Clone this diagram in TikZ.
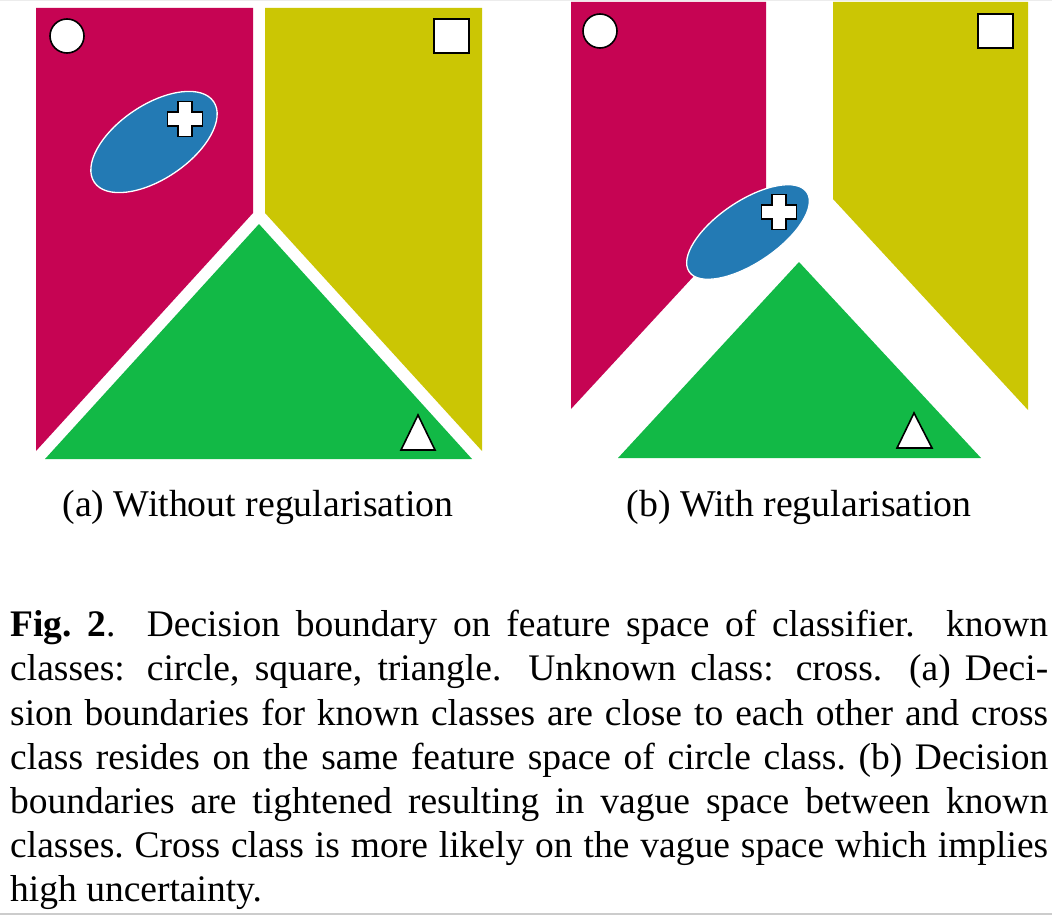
\documentclass[tikz,border=0pt]{standalone}
\usepackage{fontspec}
\setmainfont{Liberation Serif}
\definecolor{regMagenta}{RGB}{198,4,83}
\definecolor{regYellow}{RGB}{203,198,4}
\definecolor{regGreen}{RGB}{18,185,70}
\definecolor{regBlue}{RGB}{35,122,180}
\newcommand{\capline}[1]{\hbox to 1038pt{#1}}
\newcommand{\crossshape}{(-6.8,-17.5) -- (6.8,-17.5) -- (6.8,-6.8) -- (17.5,-6.8) -- (17.5,6.8)
   -- (6.8,6.8) -- (6.8,17.5) -- (-6.8,17.5) -- (-6.8,6.8) -- (-17.5,6.8) -- (-17.5,-6.8)
   -- (-6.8,-6.8) -- cycle}

\begin{document}
\begin{tikzpicture}[x=1pt,y=-1pt,
      symb/.style={fill=white,draw=black,line width=1.6pt},
      blob/.style={fill=regBlue,draw=white,line width=1.3pt},
      lbl/.style={font=\fontsize{37.8}{44}\selectfont,anchor=base,inner sep=0pt}]

    \useasboundingbox (0,0) rectangle (1052,915);
    \fill[gray!15] (0,0) rectangle (1052,1.2);
    \fill[gray!40] (0,912.5) rectangle (1052,915);

    % (a) boundaries close to each other
    \fill[regMagenta] (36,8) -- (253,8) -- (253,213) -- (36,451) -- cycle;
    \fill[regYellow] (265,8) -- (482,8) -- (482,451) -- (265,213) -- cycle;
    \fill[regGreen] (259,224) -- (472,459) -- (45,459) -- cycle;
    \begin{scope}[shift={(154,142)},rotate=34]
      \filldraw[blob] (0,0) ellipse [x radius=72pt,y radius=37pt];
    \end{scope}
    \filldraw[symb] (67,36) circle [radius=17pt];
    \filldraw[symb] (434,19) rectangle (469,53);
    \filldraw[symb] (418,415) -- (435,450) -- (401,450) -- cycle;
    \filldraw[symb,shift={(185,119)}] \crossshape;
    \node[lbl] (lblA) at (258,516.7) {(a) Without regularisation};

    % (b) tightened boundaries, vague space between
    \fill[regMagenta] (571,2) -- (766,2) -- (766,198) -- (571,409) -- cycle;
    \fill[regYellow] (833,2) -- (1028,2) -- (1028,410) -- (833,199) -- cycle;
    \fill[regGreen] (799,262) -- (981,458) -- (618,458) -- cycle;
    \begin{scope}[shift={(748,232)},rotate=34]
      \filldraw[blob] (0,0) ellipse [x radius=71pt,y radius=31pt];
    \end{scope}
    \filldraw[symb] (600,31) circle [radius=17pt];
    \filldraw[symb] (978,14) rectangle (1013,48);
    \filldraw[symb] (914,413) -- (932,448) -- (897,448) -- cycle;
    \filldraw[symb,shift={(779,212)}] \crossshape;
    \node[lbl] (lblB) at (799,516.7) {(b) With regularisation};

    % caption
    \node[anchor=base west,inner sep=0pt,font=\fontsize{37.5}{44.2}\selectfont] (cap) at (10,636.7)
      {\vtop{\baselineskip=44.2pt
        \capline{\textbf{Fig.\ 2}.\ \ Decision boundary on feature space of classifier.\ \ known}
        \capline{classes: circle, square, triangle. Unknown class: cross. (a) Deci-}
        \capline{sion boundaries for known classes are close to each other and cross}
        \capline{class resides on the same feature space of circle class.\ (b) Decision}
        \capline{boundaries are tightened resulting in vague space between known}
        \capline{classes.\ Cross class is more likely on the vague space which implies}
        \capline{high uncertainty.\hfil}}};
\end{tikzpicture}
\end{document}
